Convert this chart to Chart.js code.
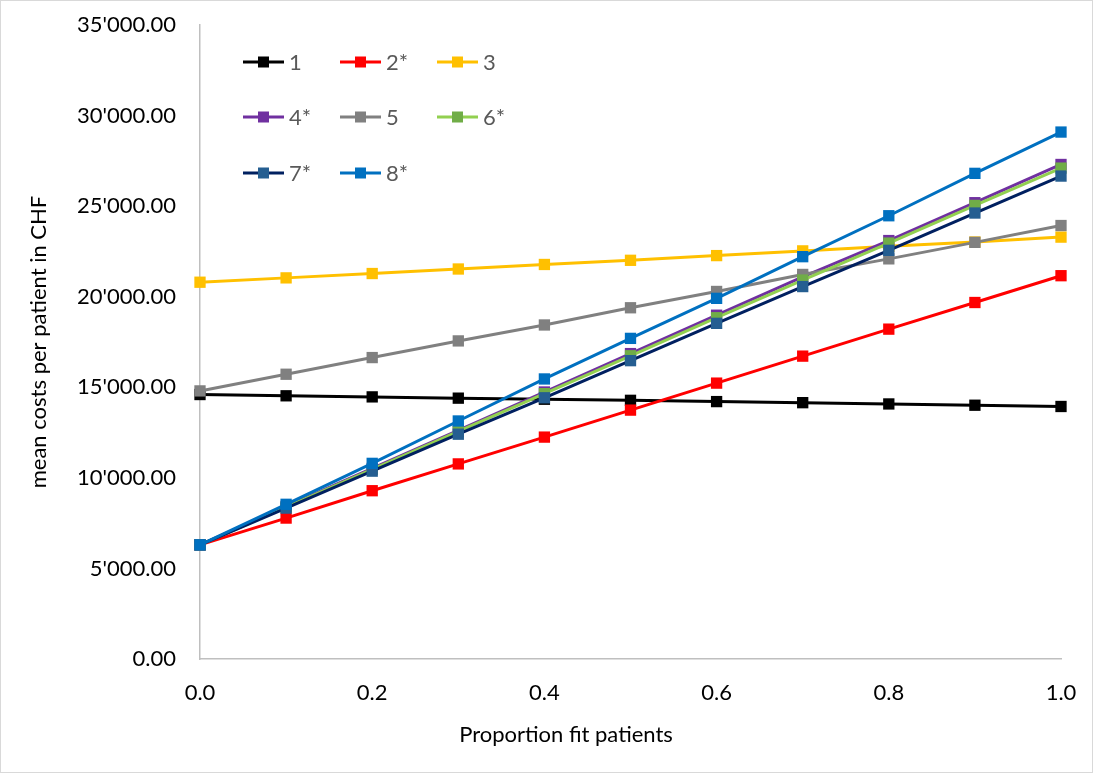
<!DOCTYPE html>
<html>
<head>
<meta charset="utf-8">
<script src="https://cdn.jsdelivr.net/npm/chart.js@4"></script>
<style>
  body { margin: 0; background: #fff; }
  #wrap { position: relative; width: 1093px; height: 773px; }
</style>
</head>
<body>
<div id="wrap"><canvas id="costChart"></canvas></div>
<script>
/* Data */
const proportions = [0, 0.1, 0.2, 0.3, 0.4, 0.5, 0.6, 0.7, 0.8, 0.9, 1.0];
const seriesNames = ['1', '2*', '3', '4*', '5', '6*', '7*', '8*'];
const s1 = [14600, 14530, 14470, 14400, 14340, 14280, 14210, 14150, 14080, 14010, 13940];
const s2 = [6300, 7780, 9290, 10770, 12250, 13740, 15230, 16720, 18210, 19680, 21160];
const s3 = [20800, 21040, 21280, 21530, 21780, 22010, 22270, 22530, 22780, 23020, 23290];
const s4 = [6300, 8420, 10520, 12620, 14740, 16860, 18980, 21090, 23100, 25190, 27300];
const s5 = [14800, 15720, 16640, 17560, 18440, 19390, 20290, 21230, 22090, 23000, 23930];
const s6 = [6300, 8380, 10470, 12560, 14650, 16740, 18840, 20920, 22960, 25040, 27100];
const s7 = [6300, 8330, 10370, 12410, 14420, 16470, 18530, 20560, 22560, 24620, 26660];
const s8 = [6300, 8540, 10800, 13140, 15460, 17700, 19910, 22210, 24470, 26810, 29090];
const allSeries = [s1, s2, s3, s4, s5, s6, s7, s8];

const lineColors = ['#000000', '#FF0000', '#FFC000', '#7030A0', '#808080', '#92D050', '#002060', '#0070C0'];
const markerColors = ['#000000', '#FF0000', '#FFC000', '#7030A0', '#808080', '#70AD47', '#255E91', '#0070C0'];

const FONT = 'Lato, "Open Sans", sans-serif';
const xTitle = 'Proportion fit patients';

function chf(v) {
  const parts = v.toFixed(2).split('.');
  const whole = parts[0].replace(/\B(?=(\d{3})+(?!\d))/g, "'");
  return whole + '.' + parts[1];
}

/* Legend drawn by hand: line + square marker, three per row */
const markerLegend = {
  id: 'markerLegend',
  afterDraw(chart) {
    const ctx = chart.ctx;
    const area = chart.chartArea;
    const rows = [37, 92, 148];
    const cols = [43, 140, 237];
    ctx.save();
    chart.data.datasets.forEach((ds, i) => {
      const x0 = area.left + cols[i % 3];
      const y = area.top + rows[Math.floor(i / 3)];
      ctx.strokeStyle = ds.borderColor;
      ctx.lineWidth = 3;
      ctx.beginPath();
      ctx.moveTo(x0, y);
      ctx.lineTo(x0 + 41, y);
      ctx.stroke();
      ctx.fillStyle = ds.pointBackgroundColor;
      ctx.fillRect(x0 + 20.5 - 5.5, y - 5.5, 11, 11);
      ctx.fillStyle = '#595959';
      ctx.font = '22px ' + FONT;
      ctx.textBaseline = 'middle';
      ctx.textAlign = 'left';
      ctx.fillText(ds.label, x0 + 46, y + 1);
    });
    ctx.restore();
  },
};

/* x axis title sits a bit left of the plot centre in the original */
const xAxisTitle = {
  id: 'xAxisTitle',
  afterDraw(chart) {
    const ctx = chart.ctx;
    ctx.save();
    ctx.fillStyle = '#000';
    ctx.font = '22px ' + FONT;
    ctx.textAlign = 'center';
    ctx.textBaseline = 'middle';
    ctx.fillText(xTitle, chart.chartArea.left + 366, chart.chartArea.bottom + 76);
    ctx.restore();
  },
};

/* Thin outer frame like the original chart border */
const outerFrame = {
  id: 'outerFrame',
  afterDraw(chart) {
    const ctx = chart.ctx;
    ctx.save();
    ctx.strokeStyle = '#D9D9D9';
    ctx.lineWidth = 1;
    ctx.strokeRect(0.5, 0.5, chart.width - 1, chart.height - 1);
    ctx.restore();
  },
};

const datasets = allSeries.map((values, i) => ({
  label: seriesNames[i],
  data: values.map((v, j) => ({ x: proportions[j], y: v })),
  borderColor: lineColors[i],
  backgroundColor: markerColors[i],
  pointBackgroundColor: markerColors[i],
  pointBorderColor: markerColors[i],
  pointBorderWidth: 0,
  pointStyle: 'rect',
  pointRadius: 8,
  borderWidth: 3,
  tension: 0,
  fill: false,
  clip: false,
  order: -i,
}));

const ctxCost = document.getElementById('costChart').getContext('2d');
const costChart = new Chart(ctxCost, {
  type: 'line',
  data: { datasets },
  options: {
    responsive: true,
    maintainAspectRatio: false,
    animation: false,
    layout: { padding: { left: 0, top: 25, right: 32, bottom: 0 } },
    plugins: {
      legend: { display: false },
      tooltip: { enabled: false },
    },
    scales: {
      x: {
        type: 'linear',
        min: 0,
        max: 1,
        grid: { display: false },
        border: { display: true, color: '#BFBFBF', width: 1.5 },
        ticks: {
          stepSize: 0.2,
          padding: 13,
          color: '#000',
          font: { family: FONT, size: 22 },
          callback: (v) => v.toFixed(1),
        },
        title: { display: false },
        afterFit: (scale) => {
          scale.height = 114;
          scale.paddingLeft = 0;
          scale.paddingRight = 0;
        },
      },
      y: {
        min: 0,
        max: 35000,
        grid: { display: false },
        border: { display: true, color: '#BFBFBF', width: 1.5 },
        ticks: {
          stepSize: 5000,
          padding: 16,
          color: '#000',
          font: { family: FONT, size: 22 },
          callback: (v) => chf(v),
        },
        title: {
          display: true,
          text: 'mean costs per patient in CHF',
          color: '#000',
          font: { family: FONT, size: 22 },
          padding: { top: 26, bottom: 0 },
        },
        afterFit: (scale) => {
          scale.width = 200;
          scale.paddingTop = 0;
          scale.paddingBottom = 0;
        },
      },
    },
  },
  plugins: [markerLegend, xAxisTitle, outerFrame],
});
</script>
</body>
</html>
